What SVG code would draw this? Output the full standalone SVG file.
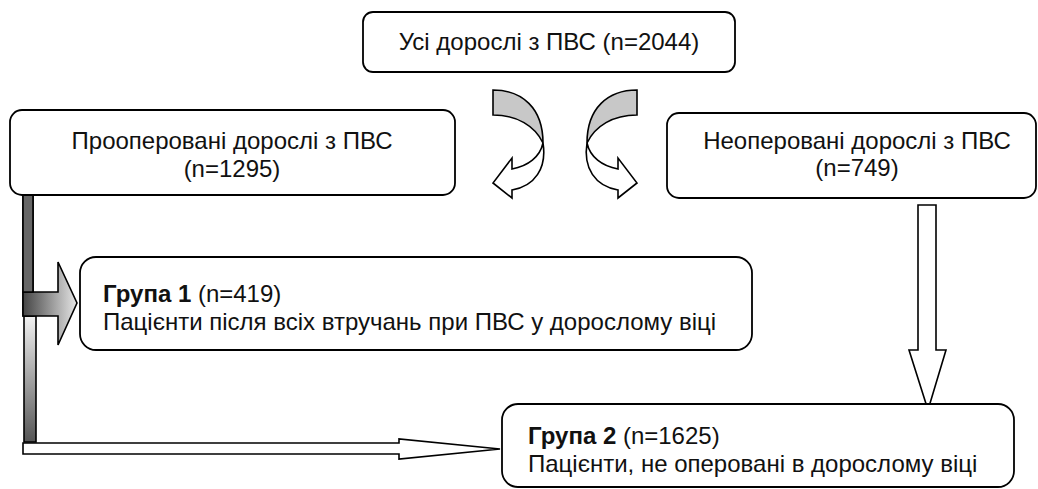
<svg xmlns="http://www.w3.org/2000/svg" width="1038" height="489" viewBox="0 0 1038 489">
<defs>
<style>
.box{fill:#fff;stroke:#000;stroke-width:1.8}
.t{font-family:"Liberation Sans",Arial,sans-serif;font-size:24px;fill:#111}
.b{font-weight:bold}
.ar{stroke:#000;stroke-width:1.6;stroke-linejoin:miter}
</style>
<linearGradient id="gH" x1="0" y1="0" x2="1" y2="0">
<stop offset="0" stop-color="#444"/>
<stop offset="1" stop-color="#e6e6e6"/>
</linearGradient>
<linearGradient id="gV" x1="0" y1="0" x2="0" y2="1">
<stop offset="0" stop-color="#f2f2f2"/>
<stop offset="1" stop-color="#555"/>
</linearGradient>
</defs>
<g id="connectors">
<path class="ar" fill="#fff" d="M918,205 H936 V350 H946 L928,410 L909,350 H918 Z"/>
<path class="ar" fill="url(#gV)" d="M24,316 H36 V442 H24 Z"/>
<path class="ar" fill="#fff" d="M23,443 H399 V439 L500,449 L399,459 V454 H23 Z"/>
<path class="ar" fill="#666" d="M23,195 H33 V316 H23 Z"/>
<path class="ar" fill="url(#gH)" d="M23,292 H58 V262 L77,303 L58,345 V316 H23 Z"/>
<path class="ar" fill="#666" d="M23,195 H33 V292 H23 Z" stroke="none"/>
<g id="curvedLeft">
<path class="ar" fill="#c8c8c8" d="M493,90 C522,90 543,108 543,143 C535,126 517,115 493,115 Z"/>
<path class="ar" fill="#fff" d="M543,143 C540,157 528,166 512,169 L512,158 L493,183 L512,198 L512,190 C535,186 547,168 543,143 Z"/>
</g>
<g id="curvedRight" transform="translate(1130,0) scale(-1,1)">
<path class="ar" fill="#c8c8c8" d="M493,90 C522,90 543,108 543,143 C535,126 517,115 493,115 Z"/>
<path class="ar" fill="#fff" d="M543,143 C540,157 528,166 512,169 L512,158 L493,183 L512,198 L512,190 C535,186 547,168 543,143 Z"/>
</g>
</g>
<g id="nodeAll">
<rect class="box" x="363" y="12" width="372" height="60" rx="10"/>
<text class="t" x="549" y="50" text-anchor="middle">Усі дорослі з ПВС (n=2044)</text>
</g>
<g id="nodeOperated">
<rect class="box" x="10" y="110" width="445" height="85" rx="12"/>
<text class="t" x="232" y="149" text-anchor="middle">Прооперовані дорослі з ПВС</text>
<text class="t" x="232" y="177" text-anchor="middle">(n=1295)</text>
</g>
<g id="nodeNotOperated">
<rect class="box" x="667" y="113" width="369" height="85" rx="12"/>
<text class="t" x="857" y="149" text-anchor="middle">Неоперовані дорослі з ПВС</text>
<text class="t" x="857" y="176" text-anchor="middle">(n=749)</text>
</g>
<g id="group1">
<rect class="box" x="80" y="257" width="672" height="93" rx="16"/>
<text class="t" x="103" y="302"><tspan class="b">Група 1</tspan> (n=419)</text>
<text class="t" x="103" y="330">Пацієнти після всіх втручань при ПВС у дорослому віці</text>
</g>
<g id="group2">
<rect class="box" x="502" y="404" width="512" height="83" rx="16"/>
<text class="t" x="528" y="444"><tspan class="b">Група 2</tspan> (n=1625)</text>
<text class="t" x="528" y="472">Пацієнти, не оперовані в дорослому віці</text>
</g>
</svg>
